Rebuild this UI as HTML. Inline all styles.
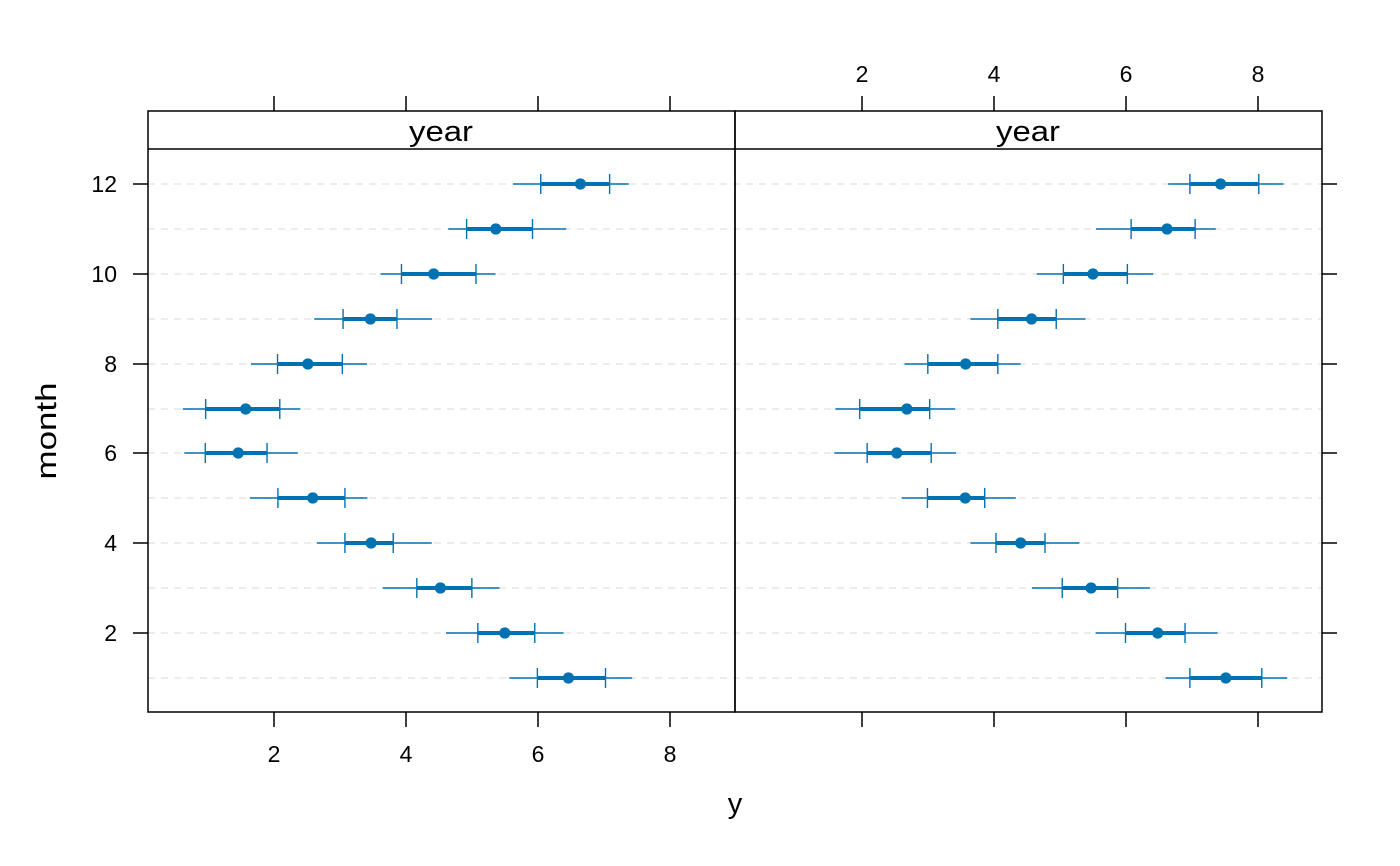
<!DOCTYPE html>
<html><head><meta charset="utf-8"><style>html,body{margin:0;padding:0;background:#fff}svg{display:block}text{font-family:"Liberation Sans",sans-serif;fill:#000}</style></head>
<body>
<svg width="1400" height="866" viewBox="0 0 1400 866" xmlns="http://www.w3.org/2000/svg">
<g stroke="#e6e6e6" stroke-width="1.5" stroke-dasharray="7,6">
<line x1="148" x2="1322" y1="184" y2="184"/><line x1="148" x2="1322" y1="229" y2="229"/><line x1="148" x2="1322" y1="274" y2="274"/><line x1="148" x2="1322" y1="319" y2="319"/><line x1="148" x2="1322" y1="364" y2="364"/><line x1="148" x2="1322" y1="409" y2="409"/><line x1="148" x2="1322" y1="453" y2="453"/><line x1="148" x2="1322" y1="498" y2="498"/><line x1="148" x2="1322" y1="543" y2="543"/><line x1="148" x2="1322" y1="588" y2="588"/><line x1="148" x2="1322" y1="633" y2="633"/><line x1="148" x2="1322" y1="678" y2="678"/>
</g>
<g stroke="#0072B2" fill="#0072B2">
<g transform="translate(148,0) scale(0.3744,1)">
<g>
<line vector-effect="non-scaling-stroke" stroke-width="1.4" x1="975" x2="1284" y1="184" y2="184"/>
<line vector-effect="non-scaling-stroke" stroke-width="1.4" x1="802" x2="1117" y1="229" y2="229"/>
<line vector-effect="non-scaling-stroke" stroke-width="1.4" x1="621" x2="928" y1="274" y2="274"/>
<line vector-effect="non-scaling-stroke" stroke-width="1.4" x1="444" x2="759" y1="319" y2="319"/>
<line vector-effect="non-scaling-stroke" stroke-width="1.4" x1="275" x2="585" y1="364" y2="364"/>
<line vector-effect="non-scaling-stroke" stroke-width="1.4" x1="93" x2="407" y1="409" y2="409"/>
<line vector-effect="non-scaling-stroke" stroke-width="1.4" x1="97" x2="400" y1="453" y2="453"/>
<line vector-effect="non-scaling-stroke" stroke-width="1.4" x1="272" x2="586" y1="498" y2="498"/>
<line vector-effect="non-scaling-stroke" stroke-width="1.4" x1="451" x2="758" y1="543" y2="543"/>
<line vector-effect="non-scaling-stroke" stroke-width="1.4" x1="627" x2="939" y1="588" y2="588"/>
<line vector-effect="non-scaling-stroke" stroke-width="1.4" x1="796" x2="1110" y1="633" y2="633"/>
<line vector-effect="non-scaling-stroke" stroke-width="1.4" x1="965" x2="1293" y1="678" y2="678"/>
</g>
<g>
<line vector-effect="non-scaling-stroke" stroke-width="4" x1="1049" x2="1233" y1="184" y2="184"/>
<line vector-effect="non-scaling-stroke" stroke-width="4" x1="851" x2="1027" y1="229" y2="229"/>
<line vector-effect="non-scaling-stroke" stroke-width="4" x1="677" x2="876" y1="274" y2="274"/>
<line vector-effect="non-scaling-stroke" stroke-width="4" x1="521" x2="665" y1="319" y2="319"/>
<line vector-effect="non-scaling-stroke" stroke-width="4" x1="346" x2="519" y1="364" y2="364"/>
<line vector-effect="non-scaling-stroke" stroke-width="4" x1="154" x2="352" y1="409" y2="409"/>
<line vector-effect="non-scaling-stroke" stroke-width="4" x1="153" x2="318" y1="453" y2="453"/>
<line vector-effect="non-scaling-stroke" stroke-width="4" x1="347" x2="526" y1="498" y2="498"/>
<line vector-effect="non-scaling-stroke" stroke-width="4" x1="526" x2="655" y1="543" y2="543"/>
<line vector-effect="non-scaling-stroke" stroke-width="4" x1="718" x2="865" y1="588" y2="588"/>
<line vector-effect="non-scaling-stroke" stroke-width="4" x1="881" x2="1033" y1="633" y2="633"/>
<line vector-effect="non-scaling-stroke" stroke-width="4" x1="1040" x2="1222" y1="678" y2="678"/>
</g>
<path vector-effect="non-scaling-stroke" stroke-width="1.4" fill="none" d="M1049 174v20M1233 174v20M851 219v20M1027 219v20M677 264v20M876 264v20M521 309v20M665 309v20M346 354v20M519 354v20M154 399v20M352 399v20M153 443v20M318 443v20M347 488v20M526 488v20M526 533v20M655 533v20M718 578v20M865 578v20M881 623v20M1033 623v20M1040 668v20M1222 668v20"/>
<g stroke="none">
<ellipse cx="1155" cy="184" rx="15" ry="5.6"/><ellipse cx="929" cy="229" rx="15" ry="5.6"/><ellipse cx="763" cy="274" rx="15" ry="5.6"/><ellipse cx="594" cy="319" rx="15" ry="5.6"/><ellipse cx="427" cy="364" rx="15" ry="5.6"/><ellipse cx="261" cy="409" rx="15" ry="5.6"/><ellipse cx="241" cy="453" rx="15" ry="5.6"/><ellipse cx="440" cy="498" rx="15" ry="5.6"/><ellipse cx="596" cy="543" rx="15" ry="5.6"/><ellipse cx="781" cy="588" rx="15" ry="5.6"/><ellipse cx="953" cy="633" rx="15" ry="5.6"/><ellipse cx="1123" cy="678" rx="15" ry="5.6"/>
</g>
</g>
<g transform="translate(735,0) scale(0.3744,1)">
<g>
<line vector-effect="non-scaling-stroke" stroke-width="1.4" x1="1157" x2="1465" y1="184" y2="184"/>
<line vector-effect="non-scaling-stroke" stroke-width="1.4" x1="964" x2="1284" y1="229" y2="229"/>
<line vector-effect="non-scaling-stroke" stroke-width="1.4" x1="806" x2="1117" y1="274" y2="274"/>
<line vector-effect="non-scaling-stroke" stroke-width="1.4" x1="629" x2="936" y1="319" y2="319"/>
<line vector-effect="non-scaling-stroke" stroke-width="1.4" x1="453" x2="763" y1="364" y2="364"/>
<line vector-effect="non-scaling-stroke" stroke-width="1.4" x1="268" x2="588" y1="409" y2="409"/>
<line vector-effect="non-scaling-stroke" stroke-width="1.4" x1="265" x2="590" y1="453" y2="453"/>
<line vector-effect="non-scaling-stroke" stroke-width="1.4" x1="445" x2="750" y1="498" y2="498"/>
<line vector-effect="non-scaling-stroke" stroke-width="1.4" x1="629" x2="920" y1="543" y2="543"/>
<line vector-effect="non-scaling-stroke" stroke-width="1.4" x1="793" x2="1108" y1="588" y2="588"/>
<line vector-effect="non-scaling-stroke" stroke-width="1.4" x1="963" x2="1289" y1="633" y2="633"/>
<line vector-effect="non-scaling-stroke" stroke-width="1.4" x1="1150" x2="1475" y1="678" y2="678"/>
</g>
<g>
<line vector-effect="non-scaling-stroke" stroke-width="4" x1="1215" x2="1399" y1="184" y2="184"/>
<line vector-effect="non-scaling-stroke" stroke-width="4" x1="1058" x2="1229" y1="229" y2="229"/>
<line vector-effect="non-scaling-stroke" stroke-width="4" x1="877" x2="1048" y1="274" y2="274"/>
<line vector-effect="non-scaling-stroke" stroke-width="4" x1="702" x2="858" y1="319" y2="319"/>
<line vector-effect="non-scaling-stroke" stroke-width="4" x1="515" x2="702" y1="364" y2="364"/>
<line vector-effect="non-scaling-stroke" stroke-width="4" x1="333" x2="520" y1="409" y2="409"/>
<line vector-effect="non-scaling-stroke" stroke-width="4" x1="353" x2="524" y1="453" y2="453"/>
<line vector-effect="non-scaling-stroke" stroke-width="4" x1="514" x2="667" y1="498" y2="498"/>
<line vector-effect="non-scaling-stroke" stroke-width="4" x1="697" x2="828" y1="543" y2="543"/>
<line vector-effect="non-scaling-stroke" stroke-width="4" x1="874" x2="1022" y1="588" y2="588"/>
<line vector-effect="non-scaling-stroke" stroke-width="4" x1="1043" x2="1202" y1="633" y2="633"/>
<line vector-effect="non-scaling-stroke" stroke-width="4" x1="1215" x2="1407" y1="678" y2="678"/>
</g>
<path vector-effect="non-scaling-stroke" stroke-width="1.4" fill="none" d="M1215 174v20M1399 174v20M1058 219v20M1229 219v20M877 264v20M1048 264v20M702 309v20M858 309v20M515 354v20M702 354v20M333 399v20M520 399v20M353 443v20M524 443v20M514 488v20M667 488v20M697 533v20M828 533v20M874 578v20M1022 578v20M1043 623v20M1202 623v20M1215 668v20M1407 668v20"/>
<g stroke="none">
<ellipse cx="1297" cy="184" rx="15" ry="5.6"/><ellipse cx="1154" cy="229" rx="15" ry="5.6"/><ellipse cx="956" cy="274" rx="15" ry="5.6"/><ellipse cx="792" cy="319" rx="15" ry="5.6"/><ellipse cx="616" cy="364" rx="15" ry="5.6"/><ellipse cx="459" cy="409" rx="15" ry="5.6"/><ellipse cx="432" cy="453" rx="15" ry="5.6"/><ellipse cx="615" cy="498" rx="15" ry="5.6"/><ellipse cx="763" cy="543" rx="15" ry="5.6"/><ellipse cx="951" cy="588" rx="15" ry="5.6"/><ellipse cx="1129" cy="633" rx="15" ry="5.6"/><ellipse cx="1311" cy="678" rx="15" ry="5.6"/>
</g>
</g>
</g>
<g fill="none" stroke="#000" stroke-width="1.5">
<rect x="148" y="111" width="587" height="601"/>
<rect x="735" y="111" width="587" height="601"/>
<line x1="148" x2="1322" y1="149" y2="149"/>
<path d="M274 96v15M406 96v15M538 96v15M670 96v15M862 96v15M994 96v15M1126 96v15M1258 96v15"/>
<path d="M274 712v15M406 712v15M538 712v15M670 712v15M862 712v15M994 712v15M1126 712v15M1258 712v15"/>
<path d="M133 184h15M133 274h15M133 364h15M133 453h15M133 543h15M133 633h15"/>
<path d="M1322 184h15M1322 274h15M1322 364h15M1322 453h15M1322 543h15M1322 633h15"/>
</g>
<g font-size="23" text-anchor="end">
<text x="117" y="192">12</text><text x="117" y="282">10</text><text x="117" y="372">8</text><text x="117" y="461">6</text><text x="117" y="551">4</text><text x="117" y="641">2</text>
</g>
<g font-size="23" text-anchor="middle">
<text x="274" y="762">2</text><text x="406" y="762">4</text><text x="538" y="762">6</text><text x="670" y="762">8</text>
<text x="862" y="82">2</text><text x="994" y="82">4</text><text x="1126" y="82">6</text><text x="1258" y="82">8</text>
</g>
<g font-size="29" text-anchor="middle">
<text x="441" y="141" textLength="64" lengthAdjust="spacingAndGlyphs">year</text>
<text x="1028" y="141" textLength="64" lengthAdjust="spacingAndGlyphs">year</text>
<text x="735" y="813">y</text>
<text transform="translate(56,431) rotate(-90)" textLength="97" lengthAdjust="spacingAndGlyphs">month</text>
</g>
</svg>
</body></html>
